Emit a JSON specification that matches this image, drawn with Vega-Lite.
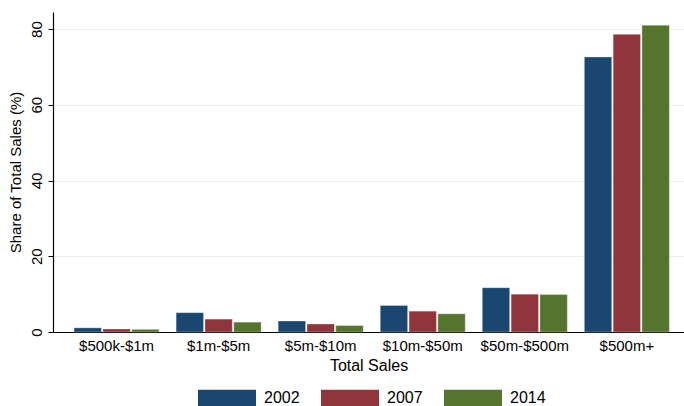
{
  "$schema": "https://vega.github.io/schema/vega-lite/v6.json",
  "width": 631,
  "height": 320,
  "autosize": {"type": "none"},
  "padding": {"left": 53, "top": 12, "right": 0, "bottom": 74},
  "background": "white",
  "config": {
    "font": "Liberation Sans",
    "view": {"stroke": null}
  },
  "data": {
    "values": [
      {"cat": "$500k-$1m", "year": "2002", "share": 1.1},
      {"cat": "$500k-$1m", "year": "2007", "share": 0.8},
      {"cat": "$500k-$1m", "year": "2014", "share": 0.7},
      {"cat": "$1m-$5m", "year": "2002", "share": 5.1},
      {"cat": "$1m-$5m", "year": "2007", "share": 3.4},
      {"cat": "$1m-$5m", "year": "2014", "share": 2.6},
      {"cat": "$5m-$10m", "year": "2002", "share": 2.9},
      {"cat": "$5m-$10m", "year": "2007", "share": 2.1},
      {"cat": "$5m-$10m", "year": "2014", "share": 1.7},
      {"cat": "$10m-$50m", "year": "2002", "share": 7.0},
      {"cat": "$10m-$50m", "year": "2007", "share": 5.5},
      {"cat": "$10m-$50m", "year": "2014", "share": 4.8},
      {"cat": "$50m-$500m", "year": "2002", "share": 11.7},
      {"cat": "$50m-$500m", "year": "2007", "share": 10.0},
      {"cat": "$50m-$500m", "year": "2014", "share": 9.9},
      {"cat": "$500m+", "year": "2002", "share": 72.6},
      {"cat": "$500m+", "year": "2007", "share": 78.6},
      {"cat": "$500m+", "year": "2014", "share": 81.0}
    ]
  },
  "mark": {"type": "bar", "stroke": "white", "strokeWidth": 0.5, "strokeOpacity": 0.6},
  "encoding": {
    "x": {
      "field": "cat",
      "type": "nominal",
      "sort": null,
      "scale": {"paddingInner": 0.167, "paddingOuter": 0.175, "align": 0.59},
      "axis": {
        "title": "Total Sales",
        "titleFontSize": 16,
        "titleFontWeight": "normal",
        "titleColor": "black",
        "titlePadding": 4,
        "labelAngle": 0,
        "labelFontSize": 15,
        "labelColor": "black",
        "labelPadding": 6,
        "ticks": false,
        "domainColor": "black",
        "domainWidth": 1.2,
        "grid": false
      }
    },
    "xOffset": {
      "field": "year",
      "type": "nominal",
      "scale": {"paddingInner": 0.05}
    },
    "y": {
      "field": "share",
      "type": "quantitative",
      "scale": {"domain": [0, 84.5], "nice": false},
      "axis": {
        "title": "Share of Total Sales (%)",
        "titleFontSize": 15,
        "titleFontWeight": "normal",
        "titleColor": "black",
        "titlePadding": 6,
        "values": [0, 20, 40, 60, 80],
        "labelAngle": -90,
        "labelAlign": "center",
        "labelBaseline": "bottom",
        "labelFontSize": 15,
        "labelColor": "black",
        "labelPadding": 4,
        "tickSize": 5,
        "tickColor": "black",
        "domainColor": "black",
        "domainWidth": 1.2,
        "gridColor": "#e8f0f2",
        "gridWidth": 1
      }
    },
    "color": {
      "field": "year",
      "type": "nominal",
      "scale": {"domain": ["2002", "2007", "2014"], "range": ["#1a476f", "#90353b", "#55752f"]},
      "legend": {
        "title": null,
        "orient": "none",
        "direction": "horizontal",
        "legendX": 145,
        "legendY": 357,
        "symbolType": "M-1,-0.293H1V0.293H-1Z",
        "symbolSize": 3364,
        "symbolStrokeWidth": 0,
        "symbolOpacity": 1,
        "labelFontSize": 16,
        "labelColor": "black",
        "labelOffset": 8,
        "columnPadding": 21
      }
    }
  }
}
